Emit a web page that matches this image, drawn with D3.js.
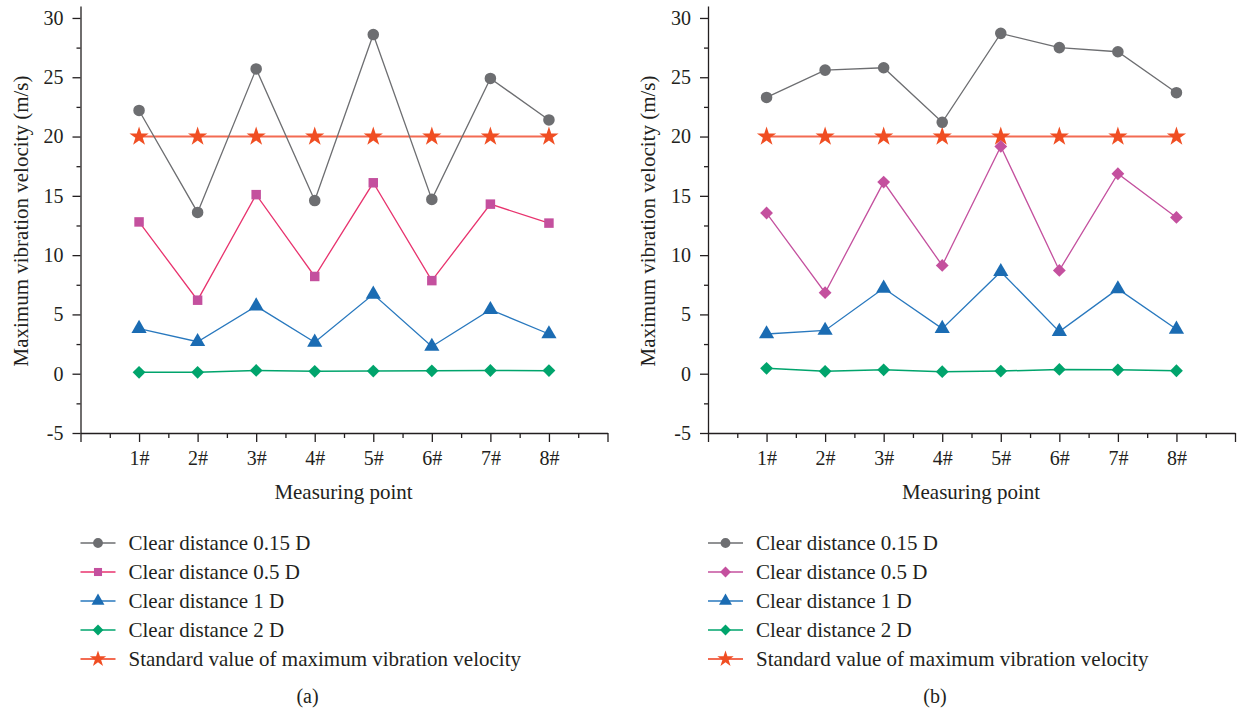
<!DOCTYPE html>
<html lang="en">
<head>
<meta charset="utf-8">
<script src="https://d3js.org/d3.v7.min.js"></script>
</head>
<body style="margin:0;background:#fff">
<style>
svg text {
  font-family: "Liberation Serif", "DejaVu Serif", serif;
  fill: #231f20;
}
.axis path, .axis line { stroke: #231f20; stroke-width: 1.3; }
</style>
<script>
// Measuring points and tick labels
var points = ["1#", "2#", "3#", "4#", "5#", "6#", "7#", "8#"];
var yTicks = [-5, 0, 5, 10, 15, 20, 25, 30];
var seriesNames = ["Clear distance 0.15 D", "Clear distance 0.5 D", "Clear distance 1 D",
  "Clear distance 2 D", "Standard value of maximum vibration velocity"];

// panel (a)
var a015 = [22.2, 13.6, 25.7, 14.6, 28.6, 14.7, 24.9, 21.4];
var a05  = [12.8, 6.2, 15.1, 8.2, 16.1, 7.85, 14.3, 12.7];
var a1   = [3.8, 2.7, 5.7, 2.65, 6.7, 2.3, 5.4, 3.35];
var a2   = [0.12, 0.12, 0.28, 0.2, 0.22, 0.24, 0.27, 0.26];
// panel (b)
var b015 = [23.3, 25.6, 25.8, 21.2, 28.7, 27.5, 27.15, 23.7];
var b05  = [13.55, 6.83, 16.16, 9.13, 19.17, 8.71, 16.86, 13.18];
var b1   = [3.35, 3.65, 7.2, 3.8, 8.6, 3.55, 7.15, 3.75];
var b2   = [0.45, 0.2, 0.33, 0.17, 0.22, 0.36, 0.33, 0.25];
var standard = [20, 20, 20, 20, 20, 20, 20, 20];

var W = 1237, H = 712;
var FONT = "Liberation Serif, DejaVu Serif, serif";
var svg = d3.select("body").append("svg").attr("width", W).attr("height", H);

var starSym = d3.symbol().type(d3.symbolStar).size(115)();
var circleSym = d3.symbol().type(d3.symbolCircle).size(105)();
var squareSym = d3.symbol().type(d3.symbolSquare).size(90)();
var triSym = d3.symbol().type(d3.symbolTriangle).size(100)();
var diaSym = d3.symbol().type(d3.symbolSquare).size(82)();

function drawPanel(left, series, label) {
  var x = d3.scaleLinear().domain([0, 9]).range([left, left + 527]);
  var y = d3.scaleLinear().domain([-5, 31]).range([433, 6.1]);
  var g = svg.append("g");

  // y axis
  g.append("g").attr("class", "axis").attr("transform", "translate(" + left + ",0)")
    .call(d3.axisLeft(y).tickValues(yTicks).tickSize(8).tickSizeOuter(0).tickPadding(9)
      .tickFormat(function(d) { return String(d); }))
    .attr("font-family", FONT)
    .call(function(s) { s.selectAll("text").style("font-size", "20px"); });
  g.append("g").attr("class", "axis").attr("transform", "translate(" + left + ",0)")
    .call(d3.axisLeft(y).tickValues(d3.range(-2.5, 30, 5)).tickSize(4).tickSizeOuter(0).tickFormat(""))
    .call(function(s) { s.select(".domain").remove(); });

  // x axis
  g.append("g").attr("class", "axis").attr("transform", "translate(0,433)")
    .call(d3.axisBottom(x).tickValues(d3.range(0, 10)).tickSize(9).tickSizeOuter(0).tickPadding(9)
      .tickFormat(function(d) { return points[d - 1] || ""; }))
    .attr("font-family", FONT)
    .call(function(s) { s.selectAll("text").style("font-size", "20px"); });
  g.append("g").attr("class", "axis").attr("transform", "translate(0,433)")
    .call(d3.axisBottom(x).tickValues(d3.range(0.5, 9, 1)).tickSize(5).tickSizeOuter(0).tickFormat(""))
    .call(function(s) { s.select(".domain").remove(); });

  g.append("text").attr("x", left + 263).attr("y", 499).attr("text-anchor", "middle")
    .style("font-size", "21px").text("Measuring point");
  g.append("text").attr("transform", "translate(" + (left - 53) + ",221) rotate(-90)")
    .attr("text-anchor", "middle").style("font-size", "21px").text("Maximum vibration velocity (m/s)");

  var line = d3.line().x(function(d, i) { return x(i + 1); }).y(function(d) { return y(d); });

  series.forEach(function(s) {
    g.append("path").datum(s.values).attr("d", line).attr("fill", "none")
      .attr("stroke", s.line).attr("stroke-width", s.width);
    g.selectAll(null).data(s.values).enter().append("path")
      .attr("d", s.sym).attr("fill", s.fill)
      .attr("transform", function(d, i) {
        return "translate(" + x(i + 1) + "," + y(d) + ")" + (s.rot ? " rotate(45)" : "");
      });
  });

  // legend
  var lg = svg.append("g").attr("transform", "translate(" + left + ",0)");
  var order = [series[1], series[2], series[3], series[4], series[0]];
  order.forEach(function(s, i) {
    var yy = 543 + i * 29;
    lg.append("line").attr("x1", 0).attr("x2", 35).attr("y1", yy).attr("y2", yy)
      .attr("stroke", s.line).attr("stroke-width", s.width);
    lg.append("path").attr("d", s.sym).attr("fill", s.fill)
      .attr("transform", "translate(17.5," + yy + ")" + (s.rot ? " rotate(45)" : "") + " scale(0.85)");
    lg.append("text").attr("x", 48).attr("y", yy + 7).style("font-size", "21px").text(seriesNames[i]);
  });

  svg.append("text").attr("x", left + 227).attr("y", 703).attr("text-anchor", "middle")
    .style("font-size", "20px").text(label);
}

drawPanel(80.5, [
  { values: standard, line: "#f36b52", fill: "#f04e23", sym: starSym, width: 2 },
  { values: a015, line: "#6d6e71", fill: "#6d6e71", sym: circleSym, width: 1.3 },
  { values: a05, line: "#e8336e", fill: "#c4509e", sym: squareSym, width: 1.3 },
  { values: a1, line: "#2878be", fill: "#1b6cb3", sym: triSym, width: 1.3 },
  { values: a2, line: "#00a46c", fill: "#00a46c", sym: diaSym, width: 1.5, rot: true }
], "(a)");

drawPanel(708, [
  { values: standard, line: "#f36b52", fill: "#f04e23", sym: starSym, width: 2 },
  { values: b015, line: "#6d6e71", fill: "#6d6e71", sym: circleSym, width: 1.3 },
  { values: b05, line: "#c4509e", fill: "#c4509e", sym: diaSym, width: 1.3, rot: true },
  { values: b1, line: "#2878be", fill: "#1b6cb3", sym: triSym, width: 1.3 },
  { values: b2, line: "#00a46c", fill: "#00a46c", sym: diaSym, width: 1.5, rot: true }
], "(b)");
</script>
</body>
</html>
